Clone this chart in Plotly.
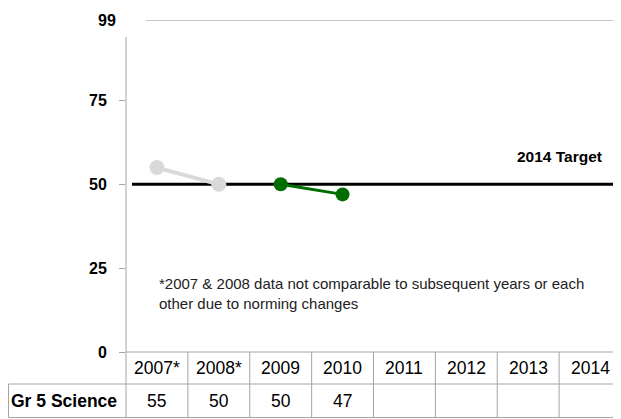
import plotly.graph_objects as go

# ---- data ----
years = ["2007*", "2008*", "2009", "2010", "2011", "2012", "2013", "2014"]
old_years = ["2007*", "2008*"]
old_scores = [55, 50]
new_years = ["2009", "2010"]
new_scores = [50, 47]
table_label = "Gr 5 Science"
table_values = ["55", "50", "50", "47", "", "", "", ""]
target_value = 50
target_label = "2014 Target"
y_ticks = [0, 25, 50, 75]
y_top = 99
footnote = "*2007 & 2008 data not comparable to subsequent years or each<br>other due to norming changes"

# page body adds an 8px offset; figure coordinates = screen - 8
W, H = 613, 411
L, R, T, B = 118, 0, 12, 67
PW, PH = W - L - R, H - T - B


def px(p):
    return (p - L) / PW


def py(p):
    return (H - B - p) / PH


FONT = "Liberation Sans, Arial, sans-serif"
GRID = "#a6a6a6"

fig = go.Figure()

fig.add_trace(go.Scatter(
    x=old_years, y=old_scores, mode="lines+markers",
    line=dict(color="#d9d9d9", width=4),
    marker=dict(color="#d9d9d9", size=15),
    showlegend=False, hoverinfo="skip"))
fig.add_trace(go.Scatter(
    x=new_years, y=new_scores, mode="lines+markers",
    line=dict(color="#006d00", width=3),
    marker=dict(color="#006d00", size=14),
    showlegend=False, hoverinfo="skip"))

shapes = []
# target line
shapes.append(dict(type="line", xref="paper", yref="y", x0=px(124), x1=1,
                   y0=target_value, y1=target_value, layer="below",
                   line=dict(color="black", width=3)))
# top gridline at 99
shapes.append(dict(type="line", xref="paper", yref="y", x0=px(138), x1=1,
                   y0=y_top, y1=y_top, line=dict(color="#8c8c8c", width=1)))
# y axis line
shapes.append(dict(type="line", xref="paper", yref="paper", x0=0, x1=0,
                   y0=py(410), y1=py(29), line=dict(color=GRID, width=1)))
# table horizontal lines
shapes.append(dict(type="line", xref="paper", yref="paper", x0=0, x1=1,
                   y0=0, y1=0, line=dict(color=GRID, width=1)))
for yy in (376, 409.5):
    shapes.append(dict(type="line", xref="paper", yref="paper", x0=px(0.5), x1=1,
                       y0=py(yy), y1=py(yy), line=dict(color=GRID, width=1)))
# left border of label cell
shapes.append(dict(type="line", xref="paper", yref="paper", x0=px(0.5), x1=px(0.5),
                   y0=py(376), y1=py(409.5), line=dict(color=GRID, width=1)))
# column borders
n = len(years)
for k in range(1, n + 1):
    xx = k / n if k < n else 1 - 0.5 / PW
    shapes.append(dict(type="line", xref="paper", yref="paper", x0=xx, x1=xx,
                       y0=py(410), y1=0, line=dict(color=GRID, width=1)))

annotations = []
# 99 label
annotations.append(dict(x=px(110), y=y_top, xref="paper", yref="y", text="99",
                        showarrow=False, xanchor="right", yanchor="middle",
                        font=dict(family=FONT, size=16, color="black", weight="bold")))
# target label
annotations.append(dict(x=px(596), y=py(148), xref="paper", yref="paper",
                        text=target_label, showarrow=False,
                        xanchor="right", yanchor="middle",
                        font=dict(family=FONT, size=15.5, color="black", weight="bold")))
# footnote
annotations.append(dict(x=px(149), y=py(285), xref="paper", yref="paper",
                        text=footnote, showarrow=False, xanchor="left", yanchor="middle",
                        align="left",
                        font=dict(family=FONT, size=15, color="#222222")))
# table content
for i, (yr, val) in enumerate(zip(years, table_values)):
    annotations.append(dict(x=i, y=py(360), xref="x", yref="paper", text=yr,
                            showarrow=False, xanchor="center", yanchor="middle",
                            font=dict(family=FONT, size=17.5, color="black")))
    if val:
        annotations.append(dict(x=i, y=py(393), xref="x", yref="paper", text=val,
                                showarrow=False, xanchor="center", yanchor="middle",
                                font=dict(family=FONT, size=17.5, color="black")))
annotations.append(dict(x=px(56), y=py(393), xref="paper", yref="paper",
                        text=table_label, showarrow=False,
                        xanchor="center", yanchor="middle",
                        font=dict(family=FONT, size=17.5, color="black", weight="bold")))

fig.update_layout(
    width=W, height=H,
    margin=dict(l=L, r=R, t=T, b=B, pad=0),
    paper_bgcolor="white", plot_bgcolor="white",
    shapes=shapes, annotations=annotations,
    xaxis=dict(type="category", categoryorder="array", categoryarray=years,
               range=[-0.5, n - 0.5], showticklabels=False, showgrid=False,
               zeroline=False, showline=False, ticks=""),
    yaxis=dict(range=[0, y_top], tickvals=y_ticks, ticks="outside", ticklen=6,
               tickcolor=GRID, showgrid=False, zeroline=False, showline=False,
               ticklabelstandoff=9,
               tickfont=dict(family=FONT, size=16, color="black", weight="bold")),
)

fig.write_html("out.html")
